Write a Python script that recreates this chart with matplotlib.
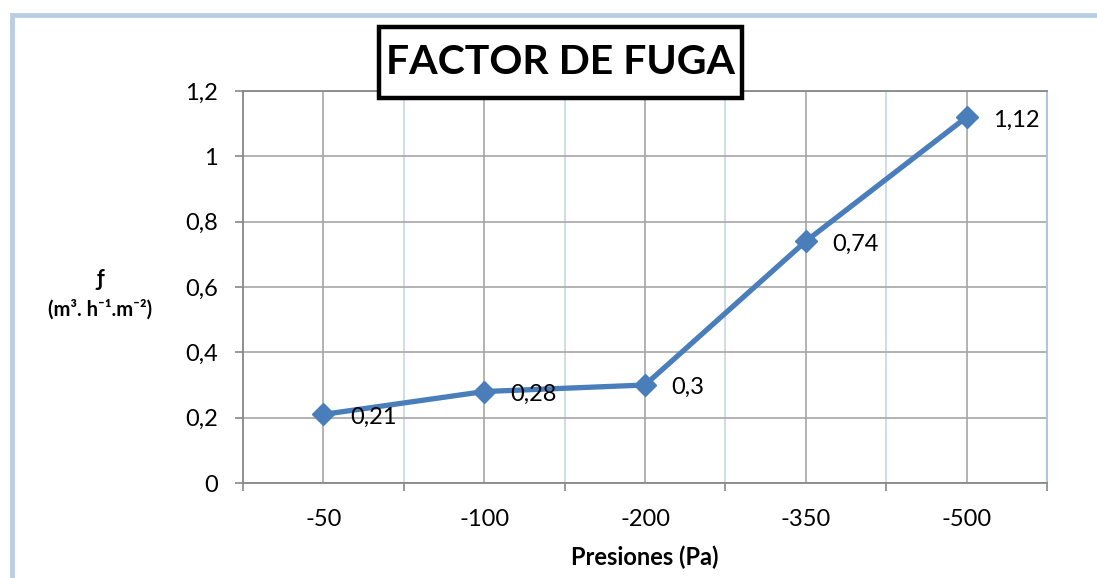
import matplotlib.pyplot as plt
from matplotlib.patches import Rectangle
from matplotlib.ticker import FixedLocator

# Factor de fuga vs presion
presiones = ["-50", "-100", "-200", "-350", "-500"]
factor = [0.21, 0.28, 0.30, 0.74, 1.12]
etiquetas = ["0,21", "0,28", "0,3", "0,74", "1,12"]
yticks = [0, 0.2, 0.4, 0.6, 0.8, 1.0, 1.2]
ytick_labels = ["0", "0,2", "0,4", "0,6", "0,8", "1", "1,2"]

plt.rcParams['font.family'] = ['Lato', 'DejaVu Sans']

W, H = 1097, 578
fig = plt.figure(figsize=(W / 100, H / 100), dpi=100)
ax = fig.add_axes([243 / W, 1 - 483 / H, (1047 - 243) / W, (483 - 91) / H])

# outer frame (cropped chart border)
fig.patches.append(Rectangle((12 / W, -0.1), 1.2, 1.1 - 14.5 / H, transform=fig.transFigure,
                             fill=False, edgecolor='#B9CDE5', linewidth=3.5, zorder=0))

x = list(range(len(presiones)))
ax.plot(x, factor, color='#4A7EBB', linewidth=3.8, marker='D', markersize=11,
        markeredgecolor='#4A7EBB', zorder=5, clip_on=False)

for xi, yi, lab in zip(x, factor, etiquetas):
    ax.annotate(lab, (xi, yi), xytext=(19, -2), textcoords='offset points',
                ha='left', va='center', fontsize=17, zorder=6)

ax.set_xlim(-0.5, len(presiones) - 0.5)
ax.set_ylim(0, 1.2)
ax.set_xticks(x)
ax.set_xticklabels(presiones, fontsize=17)
ax.xaxis.set_minor_locator(FixedLocator([i - 0.5 for i in range(len(presiones) + 1)]))
ax.set_yticks(yticks)
ax.set_yticklabels(ytick_labels, fontsize=17)

ax.tick_params(axis='x', which='major', length=0, pad=19)
ax.tick_params(axis='x', which='minor', length=6, color='#888888', width=1.2)
ax.tick_params(axis='y', length=6, color='#888888', width=1.2, pad=12)

ax.grid(True, which='major', axis='both', color='#A6A6A6', linewidth=1.2)
ax.grid(True, which='minor', axis='x', color='#C5D5EA', linewidth=1.2)
ax.set_axisbelow(True)

for side in ['left', 'bottom', 'top']:
    ax.spines[side].set_color('#888888')
    ax.spines[side].set_linewidth(1.3)
ax.spines['right'].set_color('#A9C0E0')
ax.spines['right'].set_linewidth(1.3)

ax.set_xlabel("Presiones (Pa)", fontsize=17, fontweight='bold', va='center')
ax.xaxis.set_label_coords(0.5, -(557 - 483) / 392)

fig.text(100 / W, 1 - 280 / H, "ƒ", fontsize=16, fontweight='bold', ha='center', va='center')
fig.text(100 / W, 1 - 310 / H, "(m³. h⁻¹.m⁻²)", fontsize=14.5, fontweight='bold',
         ha='center', va='center')

# title with box
fig.patches.append(Rectangle((379 / W, 1 - 98 / H), (742 - 379) / W, (98 - 27) / H,
                             transform=fig.transFigure, facecolor='white', edgecolor='black',
                             linewidth=3.2, zorder=9))
fig.text(560 / W, 1 - 63 / H, "FACTOR DE FUGA", fontsize=29.5, fontweight='bold',
         ha='center', va='center', zorder=10)

fig.savefig("out.png", dpi=100)
